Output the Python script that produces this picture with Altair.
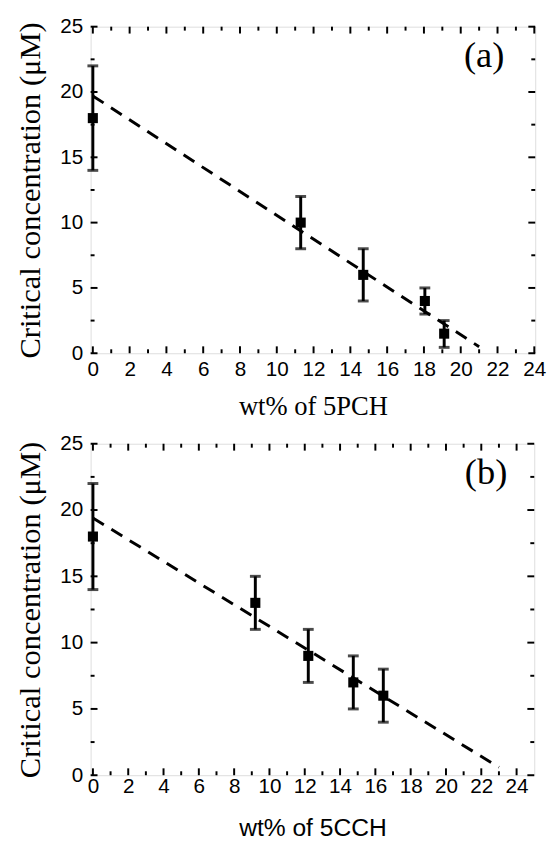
import altair as alt
import pandas as pd

# ---- data ----
a_x = [0, 11.3, 14.7, 18.05, 19.1]
a_y = [18, 10, 6, 4, 1.5]
a_lo = [14, 8, 4, 3, 0.45]
a_hi = [22, 12, 8, 5, 2.5]
a_fit_x = [0, 21.0]
a_fit_y = [19.7, 0.5]

b_x = [0, 9.2, 12.2, 14.75, 16.45]
b_y = [18, 13, 9, 7, 6]
b_lo = [14, 11, 7, 5, 4]
b_hi = [22, 15, 11, 9, 8]
b_fit_x = [0, 23.0]
b_fit_y = [19.4, 0.6]

x_major = [0, 2, 4, 6, 8, 10, 12, 14, 16, 18, 20, 22, 24]
x_minor = [1, 3, 5, 7, 9, 11, 13, 15, 17, 19, 21, 23]
y_major = [0, 5, 10, 15, 20, 25]
y_minor = [2.5, 7.5, 12.5, 17.5, 22.5]

SERIF = "Liberation Serif"
SANS = "Liberation Sans"


def panel(px, py, plo, phi, fx, fy, xdom, W, H, xtitle, xtitle_font, xtitle_size,
          xlabpad, xtitlepad, tag, tag_x):
    pts = pd.DataFrame({"x": px, "y": py, "lo": plo, "hi": phi})
    fit = pd.DataFrame({"x": fx, "y": fy})
    xs = alt.Scale(domain=xdom, nice=False, zero=False)
    ys = alt.Scale(domain=[0, 25], nice=False, zero=False)
    xax = alt.Axis(values=x_major, ticks=False, domain=False, grid=False,
                   labelOverlap=False, labelFlush=False,
                   labelFont=SANS, labelFontSize=21, labelColor="black",
                   labelPadding=xlabpad, title=xtitle, titleFont=xtitle_font,
                   titleFontSize=xtitle_size, titleFontWeight="normal",
                   titleColor="black", titlePadding=xtitlepad)
    yax = alt.Axis(values=y_major, ticks=False, domain=False, grid=False,
                   labelOverlap=False, labelFlush=False,
                   labelFont=SANS, labelFontSize=21, labelColor="black",
                   labelPadding=8, title="Critical concentration (μM)",
                   titleFont=SERIF, titleFontSize=31, titleFontWeight="normal",
                   titleColor="black", titlePadding=14)

    def X(f):
        return alt.X(f, scale=xs, axis=xax)

    def Y(f):
        return alt.Y(f, scale=ys, axis=yax)

    base = alt.Chart(pts)
    fitline = alt.Chart(fit).mark_line(color="black", strokeWidth=3,
                                       strokeDash=[13, 9]).encode(
        x=X("x:Q"), y=Y("y:Q"))
    bars = base.mark_rule(color="black", strokeWidth=3).encode(
        x=X("x:Q"), y=Y("lo:Q"), y2="hi:Q")
    cap_hi = base.mark_tick(color="black", orient="horizontal", size=11,
                            thickness=3).encode(x=X("x:Q"), y=Y("hi:Q"))
    cap_lo = base.mark_tick(color="black", orient="horizontal", size=11,
                            thickness=3).encode(x=X("x:Q"), y=Y("lo:Q"))
    sq = base.mark_square(color="black", opacity=1, size=105).encode(
        x=X("x:Q"), y=Y("y:Q"))

    xmaj = pd.DataFrame({"v": x_major})
    xmin = pd.DataFrame({"v": x_minor})
    ymaj = pd.DataFrame({"v": y_major})
    ymin = pd.DataFrame({"v": y_minor})

    def xt(df, ln):
        b = alt.Chart(df).mark_rule(color="black", strokeWidth=2)
        xe = X("v:Q")
        return [b.encode(x=xe, y=alt.value(H), y2=alt.value(H - ln)),
                b.encode(x=xe, y=alt.value(0), y2=alt.value(ln))]

    def yt(df, ln):
        b = alt.Chart(df).mark_rule(color="black", strokeWidth=2)
        ye = Y("v:Q")
        return [b.encode(y=ye, x=alt.value(0), x2=alt.value(ln)),
                b.encode(y=ye, x=alt.value(W), x2=alt.value(W - ln))]

    ticks = xt(xmaj, 7) + xt(xmin, 4) + yt(ymaj, 7) + yt(ymin, 4)

    label = alt.Chart(pd.DataFrame({"t": [tag]})).mark_text(
        font=SERIF, fontSize=37, color="black", align="center",
        baseline="middle").encode(text="t:N", x=alt.value(tag_x), y=alt.value(30))

    return alt.layer(fitline, *ticks, bars, cap_hi, cap_lo, sq, label).properties(
        width=W, height=H)


pa = panel(a_x, a_y, a_lo, a_hi, a_fit_x, a_fit_y, [-0.12, 24.05], 452, 332,
           "wt% of 5PCH", SERIF, 27, 6, 14, "(a)", 400)
pb = panel(b_x, b_y, b_lo, b_hi, b_fit_x, b_fit_y, [-0.13, 25.0], 451, 337,
           "wt% of 5CCH", SANS, 25, 1, 19, "(b)", 402)

chart = alt.vconcat(pa, pb, spacing=12).properties(
    padding={"left": 6, "top": 0, "right": 2, "bottom": 0}
).configure_view(stroke="black", strokeWidth=2.5).configure(background="white")

chart.save("out.html", embed_options={"renderer": "svg", "actions": False})
